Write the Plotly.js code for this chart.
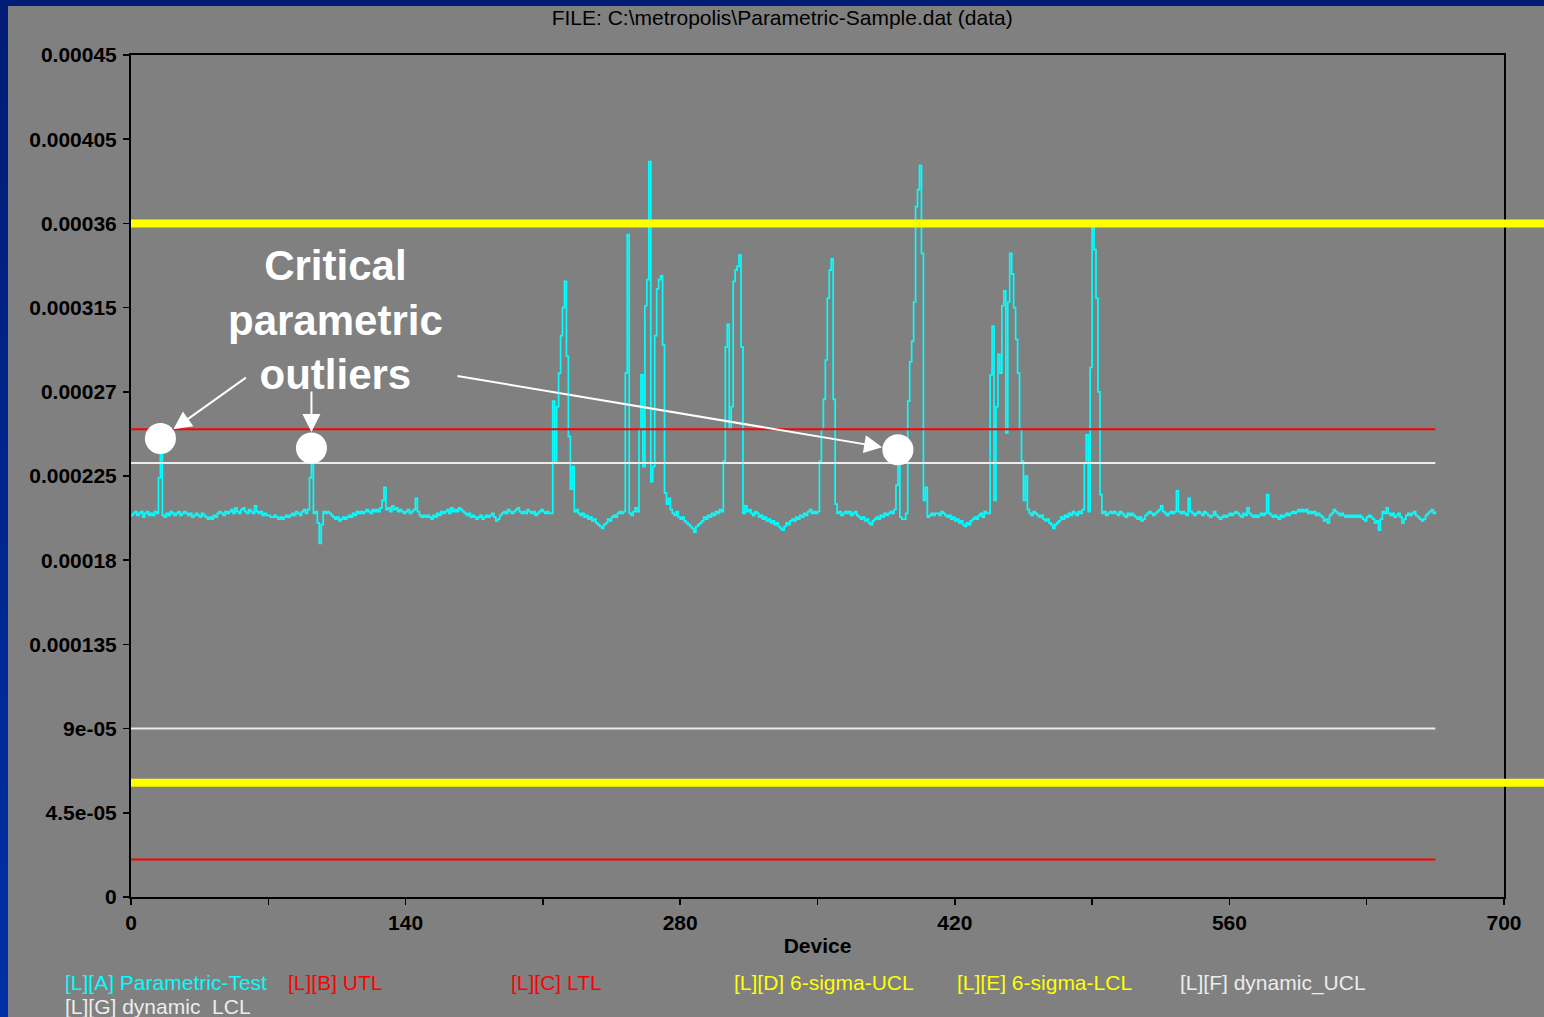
<!DOCTYPE html>
<html>
<head>
<meta charset="utf-8">
<script src="https://cdn.plot.ly/plotly-3.0.1.min.js"></script>
<style>
  html, body { margin: 0; padding: 0; width: 1544px; height: 1017px; overflow: hidden;
    background: linear-gradient(to bottom, #001c74, #0030a6); }
  #chart { position: absolute; left: 8px; top: 6px; width: 1536px; height: 1011px; }
</style>
</head>
<body>
<div id="chart"></div>
<script>
// Parametric-Test readings per device, in micro-units (x 1e-6)
const paramTestMicro = [
  204, 205, 206, 204, 205, 206, 203, 205, 206, 204,   // 0
  205, 204, 206, 205, 224, 245, 204, 203, 205, 204,   // 10
  206, 205, 204, 205, 206, 204, 205, 206, 205, 204,   // 20
  205, 203, 204, 205, 204, 203, 205, 204, 203, 202,   // 30
  203, 202, 204, 203, 205, 206, 205, 204, 206, 205,   // 40
  206, 207, 205, 208, 206, 205, 207, 208, 206, 205,   // 50
  207, 206, 205, 209, 206, 205, 206, 204, 205, 204,   // 60
  204, 203, 203, 204, 203, 202, 203, 202, 203, 204,   // 70
  203, 204, 205, 204, 206, 205, 204, 206, 207, 205,   // 80
  207, 224, 240, 205, 206, 200, 189, 199, 206, 205,   // 90
  206, 205, 204, 203, 202, 203, 201, 202, 203, 202,   // 100
  203, 204, 203, 205, 204, 206, 205, 206, 205, 206,   // 110
  207, 206, 205, 207, 206, 207, 206, 208, 212, 219,   // 120
  207, 208, 206, 209, 207, 208, 206, 207, 206, 205,   // 130
  206, 207, 205, 206, 207, 213, 206, 204, 203, 204,   // 140
  203, 204, 203, 202, 204, 203, 205, 204, 206, 205,   // 150
  206, 207, 205, 208, 206, 207, 206, 208, 207, 206,   // 160
  205, 204, 205, 203, 204, 203, 202, 203, 204, 202,   // 170
  203, 204, 203, 204, 205, 203, 201, 202, 204, 205,   // 180
  206, 205, 207, 206, 205, 206, 207, 208, 206, 205,   // 190
  206, 205, 207, 206, 205, 206, 204, 205, 206, 207,   // 200
  206, 205, 206, 205, 205, 265, 232, 262, 280, 300,   // 210
  315, 329, 289, 246, 218, 230, 206, 207, 205, 204,   // 220
  205, 203, 204, 202, 203, 201, 202, 200, 199, 198,   // 230
  197, 199, 200, 202, 201, 203, 204, 203, 205, 206,   // 240
  205, 206, 280, 354, 205, 204, 206, 208, 206, 250,   // 250
  279, 230, 316, 330, 393, 222, 230, 300, 325, 330,   // 260
  332, 295, 216, 210, 213, 207, 205, 204, 206, 203,   // 270
  202, 203, 201, 200, 199, 198, 197, 195, 198, 199,   // 280
  200, 201, 203, 202, 204, 203, 205, 204, 206, 205,   // 290
  207, 206, 233, 294, 306, 250, 262, 329, 335, 337,   // 300
  343, 294, 205, 209, 206, 207, 205, 204, 206, 205,   // 310
  203, 204, 202, 203, 201, 202, 200, 201, 199, 200,   // 320
  198, 197, 196, 198, 200, 199, 201, 202, 201, 203,   // 330
  202, 204, 203, 205, 204, 206, 207, 205, 206, 205,   // 340
  206, 233, 250, 266, 287, 320, 335, 341, 266, 210,   // 350
  205, 206, 204, 205, 206, 205, 206, 204, 205, 206,   // 360
  204, 203, 202, 203, 201, 202, 200, 199, 201, 202,   // 370
  203, 202, 204, 203, 205, 204, 205, 206, 205, 207,   // 380
  220, 239, 203, 202, 202, 205, 265, 286, 297, 318,   // 390
  369, 378, 391, 344, 212, 219, 203, 204, 205, 204,   // 400
  205, 205, 204, 206, 205, 204, 203, 204, 202, 203,   // 410
  201, 202, 200, 201, 199, 198, 200, 199, 201, 202,   // 420
  203, 202, 204, 205, 203, 206, 205, 205, 279, 305,   // 430
  212, 262, 290, 280, 316, 324, 248, 318, 344, 333,   // 440
  315, 298, 280, 250, 233, 212, 225, 207, 205, 204,   // 450
  206, 205, 204, 203, 204, 202, 201, 202, 200, 199,   // 460
  197, 199, 200, 201, 203, 202, 204, 203, 205, 204,   // 470
  206, 205, 204, 206, 205, 207, 232, 247, 206, 283,   // 480
  358, 346, 320, 270, 215, 205, 206, 204, 205, 206,   // 490
  205, 206, 205, 204, 206, 205, 204, 203, 205, 204,   // 500
  205, 204, 203, 202, 203, 201, 202, 204, 205, 206,   // 510
  205, 204, 205, 206, 207, 209, 206, 205, 204, 205,   // 520
  206, 205, 206, 217, 206, 205, 206, 205, 204, 213,   // 530
  206, 205, 204, 205, 206, 205, 204, 206, 205, 204,   // 540
  203, 204, 206, 204, 203, 202, 203, 204, 203, 204,   // 550
  205, 204, 205, 206, 205, 204, 203, 205, 204, 208,   // 560
  205, 204, 203, 204, 203, 204, 205, 204, 205, 215,   // 570
  205, 204, 203, 204, 203, 202, 204, 203, 204, 205,   // 580
  204, 205, 206, 205, 206, 207, 206, 207, 206, 207,   // 590
  205, 206, 205, 206, 204, 205, 204, 203, 201, 202,   // 600
  200, 204, 205, 207, 206, 205, 204, 205, 204, 203,   // 610
  204, 203, 204, 203, 204, 203, 204, 203, 202, 201,   // 620
  203, 204, 203, 202, 200, 201, 196, 202, 206, 205,   // 630
  208, 205, 204, 205, 203, 204, 205, 203, 200, 202,   // 640
  204, 205, 204, 205, 206, 204, 203, 202, 201, 202,   // 650
  204, 205, 206, 207, 205, 206                        // 660
];
const MICRO = 1e-6;

// Limit values
const utl = 0.00025;
const ltl = 0.00002;
const sixSigmaUcl = 0.00036;
const sixSigmaLcl = 0.000061;
const dynamicUcl = 0.000232;
const dynamicLcl = 0.00009;

// Devices flagged as critical outliers
const outlierDevices = [15, 92, 391];

// Axis ticks
const yTickVals = [0, 0.000045, 0.00009, 0.000135, 0.00018, 0.000225, 0.00027, 0.000315, 0.00036, 0.000405, 0.00045];
const yTickText = ['0', '4.5e-05', '9e-05', '0.000135', '0.00018', '0.000225', '0.00027', '0.000315', '0.00036', '0.000405', '0.00045'];

// Legend labels
const legendLabels = ['[L][A] Parametric-Test', '[L][B] UTL', '[L][C] LTL', '[L][D] 6-sigma-UCL',
                      '[L][E] 6-sigma-LCL', '[L][F] dynamic_UCL', '[L][G] dynamic_LCL'];

const CYAN = '#00ffff', RED = '#ff0000', YELLOW = '#ffff00', WHITE = '#ececec';
const legendColors = [CYAN, RED, RED, YELLOW, YELLOW, WHITE, WHITE];

const devices = paramTestMicro.map((_, i) => i);
const readings = paramTestMicro.map(v => v * MICRO);
const xEnds = [devices[0], devices[devices.length - 1]];

const flat = (v, color, name) => ({
  x: xEnds, y: [v, v], type: 'scatter', mode: 'lines', name: name,
  line: { color: color, width: 2 }, hoverinfo: 'skip'
});

const traces = [
  { x: devices, y: readings, type: 'scatter', mode: 'lines', name: 'Parametric-Test',
    line: { color: CYAN, width: 1.7, shape: 'hv' } },
  flat(utl, RED, 'UTL'),
  flat(ltl, RED, 'LTL'),
  flat(dynamicUcl, WHITE, 'dynamic_UCL'),
  flat(dynamicLcl, WHITE, 'dynamic_LCL'),
  { x: outlierDevices, y: outlierDevices.map(d => readings[d]), type: 'scatter', mode: 'markers',
    name: 'outliers', marker: { color: '#ffffff', size: 31, line: { width: 0 } }, cliponaxis: false }
];

const FONT = 'Liberation Sans, Arial, sans-serif';

// Arrow tails, as pixel offsets from each outlier point
const arrowTails = [[87, -62], [0, -58], [-442, -74]];

const annotations = [];
outlierDevices.forEach((d, i) => {
  annotations.push({
    xref: 'x', yref: 'y', x: d, y: readings[d], text: '',
    showarrow: true, ax: arrowTails[i][0], ay: arrowTails[i][1],
    arrowhead: 2, arrowsize: 1.8, arrowwidth: 2, arrowcolor: '#ffffff', standoff: 16
  });
});
annotations.push({
  xref: 'paper', yref: 'paper', x: 0.1493, y: 0.6853, xanchor: 'center', yanchor: 'middle',
  text: '<b>Critical<br>parametric<br>outliers</b>', showarrow: false, align: 'center',
  font: { family: FONT, size: 42, color: '#ffffff' }
});

// Text legend below the axis: six columns, wrapping to a second row
const colStep = 223 / 1373;
legendLabels.forEach((label, i) => {
  const row = Math.floor(i / 6), col = i % 6;
  annotations.push({
    xref: 'paper', yref: 'paper', x: -0.0495 + col * colStep, y: -0.1021 - row * 0.0285,
    xanchor: 'left', yanchor: 'middle', showarrow: false, text: label,
    font: { family: FONT, size: 21, color: legendColors[i] }
  });
});

const shapes = [sixSigmaUcl, sixSigmaLcl].map(v => ({
  type: 'line', xref: 'paper', yref: 'y', x0: 0, x1: 1.05, y0: v, y1: v,
  line: { color: YELLOW, width: 8 }, layer: 'above'
}));

const layout = {
  width: 1536, height: 1011,
  margin: { l: 123, r: 40, t: 49, b: 120 },
  paper_bgcolor: '#808080', plot_bgcolor: '#808080',
  showlegend: false,
  font: { family: FONT, size: 21, color: '#000000' },
  title: {
    text: 'FILE: C:\\metropolis\\Parametric-Sample.dat (data)',
    xref: 'container', yref: 'container', x: 0.504, y: 0.988, xanchor: 'center', yanchor: 'middle',
    font: { family: FONT, size: 21, color: '#000000' }
  },
  xaxis: {
    range: [0, 700], tick0: 0, dtick: 140, ticks: 'outside', ticklen: 6, tickwidth: 1.5, tickcolor: '#000',
    minor: { dtick: 70, ticks: 'outside', ticklen: 6, tickwidth: 1.5, tickcolor: '#000' },
    showgrid: false, zeroline: false, showline: true, linecolor: '#000', linewidth: 2, mirror: true,
    tickfont: { family: FONT, size: 21, color: '#000', weight: 'bold' },
    title: { text: '<b>Device</b>', standoff: 5, font: { family: FONT, size: 21, color: '#000' } }
  },
  yaxis: {
    range: [0, 0.00045], tickvals: yTickVals, ticktext: yTickText,
    ticks: 'outside', ticklen: 6, tickwidth: 1.5, tickcolor: '#000', ticklabelstandoff: 2,
    showgrid: false, zeroline: false, showline: true, linecolor: '#000', linewidth: 2, mirror: true,
    tickfont: { family: FONT, size: 21, color: '#000', weight: 'bold' }
  },
  shapes: shapes,
  annotations: annotations
};

Plotly.newPlot('chart', traces, layout, { displayModeBar: false, staticPlot: true });
</script>
</body>
</html>
